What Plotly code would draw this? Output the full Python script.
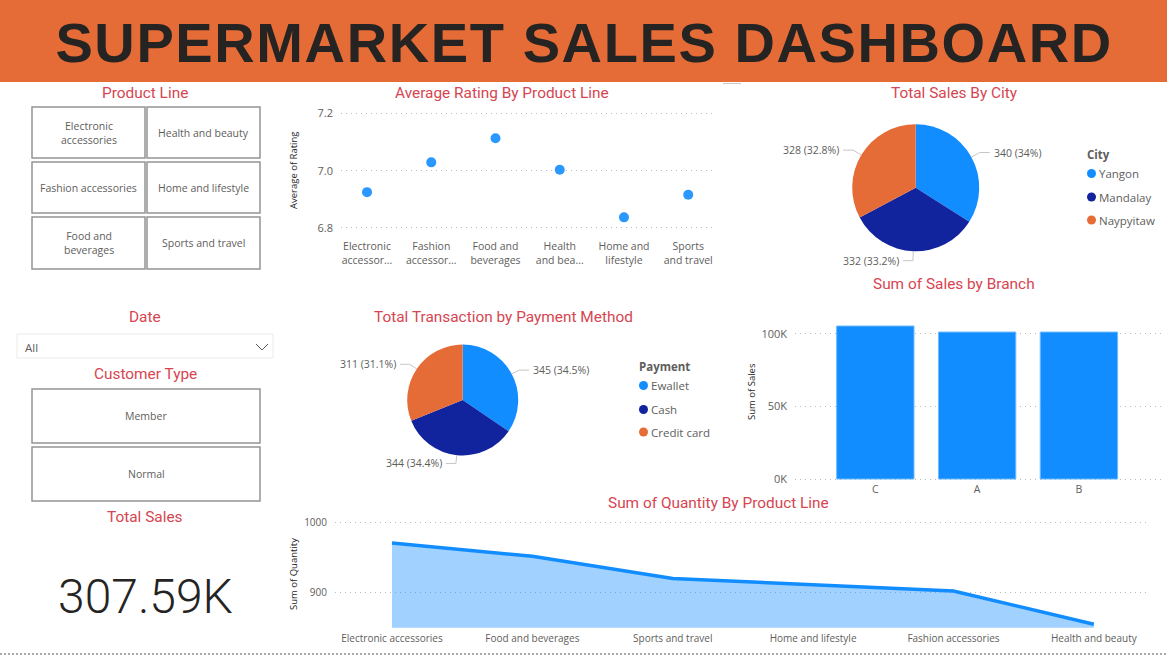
import math
import plotly.graph_objects as go

W, H = 1167, 655

# ---- data ----
rating_labels = ["Electronic<br>accessor...", "Fashion<br>accessor...", "Food and<br>beverages",
                 "Health<br>and bea...", "Home and<br>lifestyle", "Sports<br>and travel"]
rating_values = [6.925, 7.029, 7.113, 7.003, 6.837, 6.916]
rating_ticks = [6.8, 7.0, 7.2]

city_names = ["Yangon", "Mandalay", "Naypyitaw"]
city_values = [340, 332, 328]

payment_names = ["Ewallet", "Cash", "Credit card"]
payment_values = [345, 344, 311]

branch_names = ["C", "A", "B"]
branch_values = [105304, 101143, 101140]
branch_ticks = [0, 50000, 100000]
branch_ticktext = ["0K", "50K", "100K"]

quantity_names = ["Electronic accessories", "Food and beverages", "Sports and travel",
                  "Home and lifestyle", "Fashion accessories", "Health and beauty"]
quantity_values = [971, 952, 920, 911, 902, 854]
quantity_ticks = [900, 1000]

product_buttons = [["Electronic<br>accessories", "Health and beauty"],
                   ["Fashion accessories", "Home and lifestyle"],
                   ["Food and<br>beverages", "Sports and travel"]]
customer_buttons = ["Member", "Normal"]
total_sales = "307.59K"
banner_title = "SUPERMARKET SALES DASHBOARD"

# ---- styles ----
BLUE, NAVY, ORANGE = "#118DFF", "#12239E", "#E66C37"
PIE_COLORS = [BLUE, NAVY, ORANGE]
TITLE_C = "#D64550"
TEXT_C = "#605E5C"
DARK = "#252423"
GRID = "#BDBBB9"
FONT = "Open Sans"
TITLE_FONT = "Roboto"


def xp(x):
    return x / W


def yp(y):
    return 1 - y / H


annotations, shapes = [], []


def text(x, y, s, size=11, color=TEXT_C, anchor="center", family=FONT, angle=0, weight=None, **kw):
    f = dict(size=size, color=color, family=family)
    if weight:
        f["weight"] = weight
    annotations.append(dict(x=xp(x), y=yp(y), xref="paper", yref="paper", text=s, showarrow=False,
                            xanchor=anchor, yanchor="middle", textangle=angle, align="center",
                            font=f, **kw))


def box(x0, y0, x1, y1, line="#949494", width=1.5, fill="rgba(0,0,0,0)"):
    shapes.append(dict(type="rect", xref="paper", yref="paper", x0=xp(x0), x1=xp(x1), y0=yp(y1), y1=yp(y0),
                       line=dict(color=line, width=width), fillcolor=fill, layer="below"))


def seg(x0, y0, x1, y1, color="#C8C6C4", width=1, dash=None):
    shapes.append(dict(type="line", xref="paper", yref="paper", x0=xp(x0), x1=xp(x1), y0=yp(y0), y1=yp(y1),
                       line=dict(color=color, width=width, dash=dash)))


def fmt_pct(v, total):
    return f"{v} ({round(v / total * 100, 1):g}%)"


fig = go.Figure()

# ---- banner ----
shapes.append(dict(type="rect", xref="paper", yref="paper", x0=0, x1=1, y0=yp(82), y1=1,
                   fillcolor=ORANGE, line=dict(width=0), layer="below"))
text(584, 42, f"<b>{banner_title}</b>", size=56, color=DARK, family="Liberation Sans")
seg(723, 83.5, 741, 83.5, color="#C8C6C4")

# ---- titles ----
for x, y, s in [(145, 93, "Product Line"), (502, 93, "Average Rating By Product Line"),
                (954, 93, "Total Sales By City"), (954, 284, "Sum of Sales by Branch"),
                (145, 317, "Date"), (503, 317, "Total Transaction by Payment Method"),
                (145, 374, "Customer Type"), (718, 503, "Sum of Quantity By Product Line"),
                (145, 517, "Total Sales")]:
    text(x, y, s, size=15.4, color=TITLE_C, family=TITLE_FONT)

# ---- slicers ----
col_x = [(32, 145), (147, 260)]
row_y = [(107, 158), (162, 213), (217, 269)]
for r, row in enumerate(product_buttons):
    for c, label in enumerate(row):
        x0, x1 = col_x[c]
        y0, y1 = row_y[r]
        box(x0, y0, x1, y1)
        text((x0 + x1) / 2, (y0 + y1) / 2 + 0.5, label, size=10.5)

for label, (y0, y1) in zip(customer_buttons, [(389, 443), (447, 501)]):
    box(32, y0, 260, y1)
    text(146, (y0 + y1) / 2, label, size=10.5)

box(17, 334, 273, 358, line="#EDEBE9", width=1)
text(23, 347, "All", size=11.5, anchor="left")
seg(256, 344, 262, 350, color="#605E5C")
seg(262, 350, 268, 344, color="#605E5C")

text(145, 596, total_sales, size=48, color=DARK, family=TITLE_FONT, weight=300)

# ---- scatter ----
fig.add_trace(go.Scatter(x=list(range(len(rating_values))), y=rating_values, mode="markers",
                         marker=dict(color="#2B98FF", size=10), xaxis="x", yaxis="y",
                         cliponaxis=False, showlegend=False))
text(293, 170, "Average of Rating", size=9.5, color=DARK, angle=-90)

# ---- bars ----
fig.add_trace(go.Bar(x=list(range(len(branch_values))), y=branch_values, width=0.76,
                     marker=dict(color=BLUE, line=dict(color="#70BBFF", width=1)),
                     xaxis="x2", yaxis="y2", showlegend=False))
text(751, 392, "Sum of Sales", size=9.5, color=DARK, angle=-90)

# ---- area ----
fig.add_trace(go.Scatter(x=list(range(len(quantity_values))), y=quantity_values, mode="lines",
                         line=dict(color=BLUE, width=3.5), fill="tozeroy", fillcolor="rgba(17,141,255,0.4)",
                         xaxis="x3", yaxis="y3", showlegend=False))
text(293, 574, "Sum of Quantity", size=9.5, color=DARK, angle=-90)


# ---- pies ----
def add_pie(names, values, cx, cy, r, leg_x, leg_title, leg_title_y, leg_ys):
    fig.add_trace(go.Pie(labels=names, values=values, sort=False, direction="clockwise", rotation=0,
                         marker=dict(colors=PIE_COLORS), textinfo="none", showlegend=False,
                         domain=dict(x=[xp(cx - r), xp(cx + r)], y=[yp(cy + r), yp(cy - r)])))
    total = sum(values)
    acc = 0
    for v in values:
        a = 2 * math.pi * (acc + v / 2) / total
        acc += v
        sx, sy = math.sin(a), -math.cos(a)
        x0, y0 = cx + r * sx, cy + r * sy
        x1, y1 = cx + 1.15 * r * sx, cy + 1.15 * r * sy
        sign = 1 if sx > 0 else -1
        x2 = x1 + sign * 10
        seg(x0, y0, x1, y1)
        seg(x1, y1, x2, y1)
        text(x2 + sign * 2, y1, fmt_pct(v, total), size=10.5, anchor="left" if sign > 0 else "right")
    text(leg_x - 6, leg_title_y, f"<b>{leg_title}</b>", size=11.5, anchor="left")
    for name, col, y in zip(names, PIE_COLORS, leg_ys):
        shapes.append(dict(type="circle", xref="paper", yref="paper", x0=xp(leg_x - 4), x1=xp(leg_x + 5),
                           y0=yp(y + 4.5), y1=yp(y - 4.5), fillcolor=col, line=dict(width=0)))
        text(leg_x + 6, y, name, size=11.5, anchor="left")


add_pie(city_names, city_values, 915.7, 187.7, 63.5, 1091, "City", 154, [173.5, 197, 220])
add_pie(payment_names, payment_values, 462.7, 400, 55.5, 643, "Payment", 367, [385.5, 409.5, 432])

# ---- bottom rule ----
seg(0, 654, W, 654, color="#555555", width=1, dash="2px,2px")

grid = dict(showgrid=True, gridcolor=GRID, griddash="1px,4px", gridwidth=1, zeroline=False,
            showline=False, ticks="")
cat = dict(showgrid=False, zeroline=False, showline=False, ticks="")

fig.update_layout(
    width=W, height=H, margin=dict(l=0, r=0, t=0, b=0, autoexpand=False), paper_bgcolor="white",
    plot_bgcolor="white", showlegend=False, font=dict(family=FONT, color=TEXT_C, size=10.5),
    annotations=annotations, shapes=shapes,
    xaxis=dict(domain=[xp(341), xp(712)], range=[-0.405, 5.37], tickvals=list(range(6)), ticktext=rating_labels,
               anchor="y", tickfont=dict(size=10.5, color=TEXT_C), ticklabelstandoff=5, **cat),
    yaxis=dict(domain=[yp(233.7), yp(107.6)], range=[6.78, 7.22], tickvals=rating_ticks, tickformat=".1f",
               anchor="x", tickfont=dict(size=11, color=TEXT_C), ticklabelstandoff=7, **grid),
    xaxis2=dict(domain=[xp(795), xp(1162)], range=[-0.789, 2.816], tickvals=list(range(3)), ticktext=branch_names,
                anchor="y2", tickfont=dict(size=10.5, color=TEXT_C), **cat),
    yaxis2=dict(domain=[yp(481.2), yp(325)], range=[-1500, 105990], tickvals=branch_ticks,
                ticktext=branch_ticktext, anchor="x2", tickfont=dict(size=11, color=TEXT_C),
                ticklabelstandoff=7, **grid),
    xaxis3=dict(domain=[xp(335), xp(1150)], range=[-0.406, 5.40], tickvals=list(range(6)), ticktext=quantity_names,
                anchor="y3", tickfont=dict(size=10, color=TEXT_C), ticklabelstandoff=3, **cat),
    yaxis3=dict(domain=[yp(627.7), yp(519.5)], range=[849, 1005], tickvals=quantity_ticks,
                anchor="x3", tickfont=dict(size=10, color=TEXT_C), ticklabelstandoff=7, **grid),
)

css = ".annotation[data-index='0'] text{letter-spacing:1.6px;font-kerning:none;-webkit-text-stroke:1.2px #252423;}"
post = ("document.body.style.margin='0';document.body.style.overflow='hidden';"
        "var s=document.createElement('style');s.textContent=\"" + css + "\";document.head.appendChild(s);")
fig.write_html("out.html", config={"displayModeBar": False}, post_script=post)
